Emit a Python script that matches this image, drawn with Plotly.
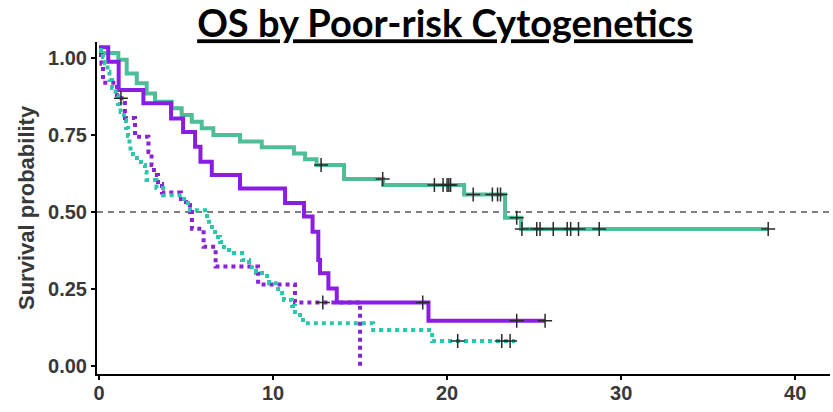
import plotly.graph_objects as go

# Kaplan-Meier estimates: event times (months) and survival after each event
gs_start = 1.016
gs_times = [1.11, 1.59, 2.17, 2.74, 3.22, 4.18, 4.75, 5.33, 5.90, 6.57, 8.10, 9.35,
            11.2, 11.84, 12.5, 14.08, 16.32, 20.98, 23.33, 24.25]
gs_surv = [0.994, 0.950, 0.918, 0.885, 0.858, 0.837, 0.815, 0.793, 0.772, 0.750, 0.729, 0.710,
           0.690, 0.671, 0.653, 0.607, 0.588, 0.557, 0.481, 0.445]
gs_end = 38.45
gs_cens = [12.76, 16.30, 19.27, 19.77, 20.0, 20.1, 20.2, 21.5, 22.6, 22.9, 23.07, 24.0,
           24.3, 25.15, 25.34, 26.1, 26.9, 27.1, 27.55, 28.74, 38.45]

ps_start = 1.035
ps_times = [0.53, 1.13, 2.55, 4.14, 4.83, 5.52, 5.83, 6.48, 8.10, 10.69, 11.78, 12.27,
            12.60, 12.70, 13.18, 13.66, 18.93]
ps_surv = [0.988, 0.896, 0.853, 0.804, 0.760, 0.712, 0.663, 0.620, 0.576, 0.529, 0.485, 0.436,
           0.344, 0.301, 0.252, 0.206, 0.147]
ps_end = 25.63
ps_cens = [18.60, 24.0, 25.63]

pd_start = 1.010
pd_times = [0.14, 0.23, 1.03, 1.49, 2.07, 2.84, 3.02, 3.16, 3.39, 3.62, 4.71, 5.00, 5.23,
            5.34, 6.01, 6.70, 9.14, 11.26, 15.0]
pd_surv = [0.981, 0.920, 0.869, 0.805, 0.744, 0.695, 0.653, 0.620, 0.591, 0.563, 0.542, 0.523,
           0.500, 0.446, 0.387, 0.323, 0.265, 0.206, 0.0]
pd_end = 15.0
pd_cens = [1.26, 12.86]

gd_start = 1.026
gd_times = [0.23, 0.34, 0.49, 0.60, 0.75, 0.95, 1.09, 1.24, 1.44, 1.55, 1.67, 1.75, 1.81,
            1.95, 2.41, 2.64, 2.73, 3.30, 3.68, 4.89, 5.23, 6.09, 6.32, 6.49, 6.67, 6.95,
            7.18, 7.47, 8.22, 8.62, 9.02, 9.66, 9.77, 10.29, 10.52, 10.63, 11.09, 11.26,
            11.55, 11.72, 15.75, 19.14]
gd_surv = [1.003, 0.983, 0.955, 0.929, 0.903, 0.877, 0.851, 0.825, 0.799, 0.773, 0.747,
           0.721, 0.698, 0.675, 0.653, 0.630, 0.604, 0.578, 0.554, 0.529, 0.506, 0.487,
           0.468, 0.451, 0.419, 0.403, 0.386, 0.367, 0.344, 0.321, 0.302, 0.286, 0.269,
           0.250, 0.227, 0.214, 0.195, 0.175, 0.156, 0.139, 0.117, 0.081]
gd_end = 23.91
gd_cens = [20.61, 23.14, 23.62]

x_ticks = [0, 10, 20, 30, 40]
y_ticks = [0.00, 0.25, 0.50, 0.75, 1.00]
y_tick_text = ["0.00", "0.25", "0.50", "0.75", "1.00"]
median_level = 0.5


def step_value(t, start, times, surv):
    level = start
    for ti, si in zip(times, surv):
        if ti <= t:
            level = si
    return level


curves = [
    ("Poor-risk, arm A", gs_start, gs_times, gs_surv, gs_end, gs_cens, "#4DBE98", "solid"),
    ("Poor-risk, arm B", ps_start, ps_times, ps_surv, ps_end, ps_cens, "#8A1DE3", "solid"),
    ("Other, arm B", pd_start, pd_times, pd_surv, pd_end, pd_cens, "#8A22D8", "4px,4px"),
    ("Other, arm A", gd_start, gd_times, gd_surv, gd_end, gd_cens, "#2DC6AC", "4px,4px"),
]

fig = go.Figure()

# median reference line
fig.add_shape(type="line", xref="paper", yref="y", x0=0, x1=1,
              y0=median_level, y1=median_level,
              line=dict(color="#555555", width=1.5, dash="6px,5px"), layer="below")

for name, start, times, surv, end, cens, color, dash in curves:
    xs = [0] + times + ([end] if end > times[-1] else [])
    ys = [start] + surv + ([surv[-1]] if end > times[-1] else [])
    fig.add_trace(go.Scatter(x=xs, y=ys, mode="lines", name=name,
                             line=dict(color=color, width=4, shape="hv", dash=dash)))

for name, start, times, surv, end, cens, color, dash in curves:
    fig.add_trace(go.Scatter(
        x=cens, y=[step_value(c, start, times, surv) for c in cens],
        mode="markers", showlegend=False,
        marker=dict(symbol="cross-thin", size=10, line=dict(color="#2a2a2a", width=1.5))))

fig.update_layout(
    width=833, height=412,
    margin=dict(l=97, r=3, t=42, b=38),
    paper_bgcolor="white", plot_bgcolor="white",
    showlegend=False,
    title=dict(text="<b>OS by Poor-risk Cytogenetics</b>",
               x=445 / 833, xanchor="center", xref="container",
               y=1 - 24 / 412, yanchor="middle", yref="container",
               font=dict(family="Lato", size=38, color="black", lineposition="under")),
    font=dict(family="Liberation Sans, Arial", color="#333333"),
    annotations=[dict(text="Survival probability", textangle=-90,
                      xref="paper", yref="paper", x=(26 - 97) / 733, y=0.5,
                      xanchor="center", yanchor="middle", showarrow=False,
                      font=dict(size=22, family="Liberation Sans", weight="bold",
                                color="#383838"))],
)

tick_font = dict(size=20, family="Liberation Sans", weight="bold", color="#383838")
fig.update_xaxes(range=[-0.115, 42.0], tickvals=x_ticks, ticks="outside", ticklen=4,
                 tickwidth=1.5, tickcolor="black", showline=True, linecolor="black",
                 linewidth=2, showgrid=False, zeroline=False, tickfont=tick_font,
                 ticklabelstandoff=-4)
fig.update_yaxes(range=[-0.026, 1.052], tickvals=y_ticks, ticktext=y_tick_text,
                 ticks="outside", ticklen=4, tickwidth=1.5, tickcolor="black",
                 showline=True, linecolor="black", linewidth=2, showgrid=False, zeroline=False,
                 tickfont=tick_font)

fig.write_html("out.html")
